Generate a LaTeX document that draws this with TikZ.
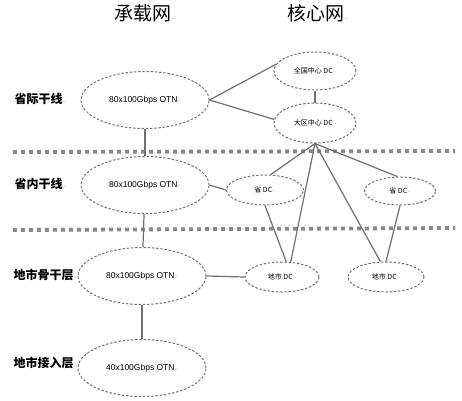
\documentclass[tikz,border=0pt]{standalone}
\usepackage{fontspec}
\setmainfont{Liberation Sans}
\newfontfamily\cjk{Noto Sans CJK SC}
\newfontfamily\symfont{DejaVu Sans}
\usetikzlibrary{shapes,positioning}
\definecolor{linegray}{HTML}{707070}
\definecolor{dotgray}{HTML}{888888}
\newcommand{\pmark}{{\symfont\fontsize{4}{4}\selectfont\color{lightgray}↵}}
\tikzset{
	otn/.style={ellipse,draw=linegray,dash pattern=on 2.4pt off 1.8pt,line width=1pt,
		minimum width=128pt,minimum height=57pt,inner sep=0pt,font=\fontsize{8.5}{9}\selectfont},
	dc/.style={ellipse,draw=linegray,dash pattern=on 2.4pt off 1.8pt,line width=1pt,
		inner sep=0pt,font=\cjk\fontsize{7}{8}\selectfont},
	layer/.style={anchor=west,font=\cjk\bfseries\fontsize{12}{14}\selectfont},
	nettitle/.style={font=\cjk\fontsize{19}{20}\selectfont},
	sepline/.style={dotgray,line width=3.8pt,dash pattern=on 3.8pt off 4.2pt},
	link/.style={linegray,line width=1.2pt}
}
\begin{document}
\begin{tikzpicture}[x=1pt, y=-1pt]
		\useasboundingbox[fill=white] (0,0) rectangle (462,400);
		\node[nettitle] (t1) at (145,13) {承载网\pmark};
		\node[nettitle] (t2) at (318,13) {核心网\pmark};
		\node[layer] (l1) at (11,99) {省际干线\pmark};
		\node[layer] (l2) at (11,184) {省内干线\pmark};
		\node[layer] (l3) at (10,275) {地市骨干层\pmark};
		\node[layer] (l4) at (10,363) {地市接入层\pmark};
		\draw[sepline] (13,152) -- (455,151);
		\draw[sepline] (13,230) -- (455,228);
		\begin{scope}[every node/.style={otn}]
			\node (e1) at (145,100) {80x100Gbps OTN\pmark};
			\node (e2) at (145,185) {80x100Gbps OTN\pmark};
			\node (e3) at (142,276) {80x100Gbps OTN\pmark};
			\node (e4) at (142,368) {40x100Gbps OTN\pmark};
		\end{scope}
		\begin{scope}[every node/.style={dc}]
			\node[minimum width=82pt, minimum height=38pt] (qg) at (315,71) {全国中心 DC\pmark};
			\node[minimum width=82pt, minimum height=40pt] (dq) at (315,123) {大区中心 DC\pmark};
			\node[minimum width=77pt, minimum height=30pt] (sl) at (265,190) {省 DC\pmark};
			\node[minimum width=71pt, minimum height=28pt] (sr) at (400,191) {省 DC\pmark};
			\node[minimum width=74pt, minimum height=30pt] (dl) at (282,277) {地市 DC\pmark};
			\node[minimum width=76pt, minimum height=30pt] (dr) at (386,277) {地市 DC\pmark};
		\end{scope}
		\begin{scope}[every path/.style={link}]
			\path (e1.east)
			edge (qg.170)
			edge (dq.175);
			\path (e1) edge (e2);
			\path (e2) edge (e3);
			\path (e3) edge (e4);
			\path (e2.east) edge (sl.west);
			\path (e3.east) edge (dl.west);
			\path (qg) edge (dq);
			\path (dq.south)
			edge (sl.70)
			edge (dl.60)
			edge (dr.110)
			edge (sr.100);
			\path (sl.south) edge (dl.75);
			\path (sr.south) edge (dr.north);
		\end{scope}
	\end{tikzpicture}
\end{document}
